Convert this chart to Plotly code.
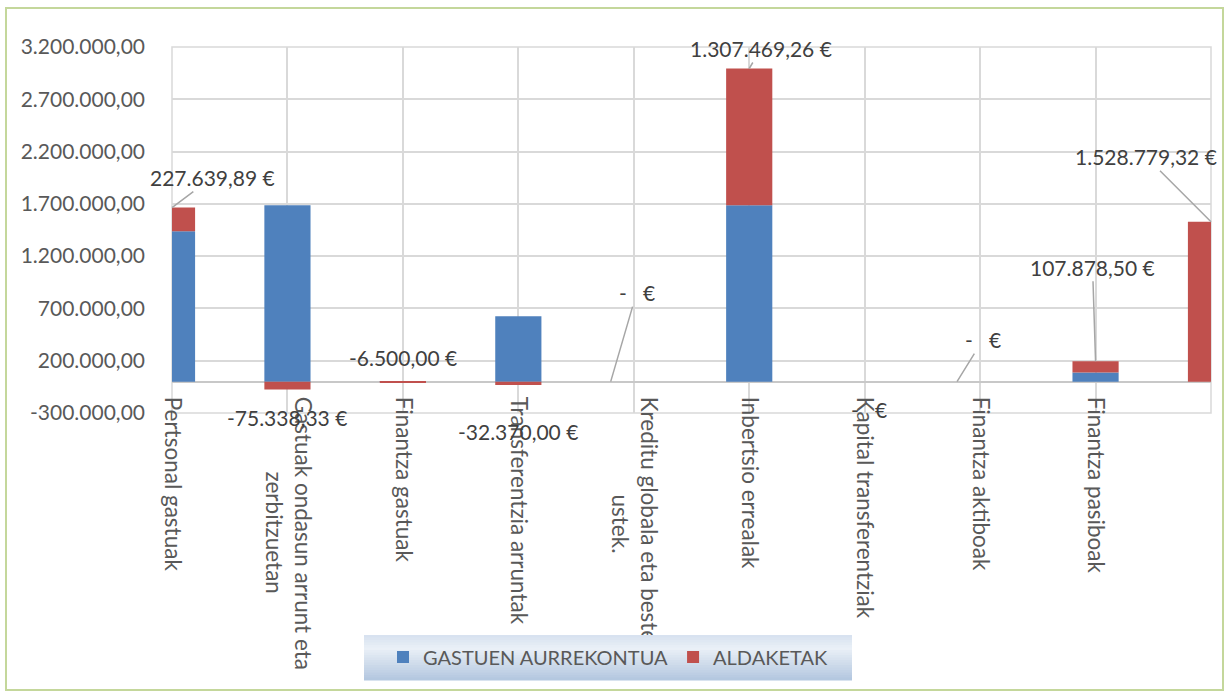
import plotly.graph_objects as go

# ---------------- data ----------------
categories = [
    "Pertsonal gastuak",
    "Gastuak ondasun arrunt eta<br>zerbitzuetan",
    "Finantza gastuak",
    "Transferentzia arruntak",
    "Kreditu globala eta beste<br>ustek.",
    "Inbertsio errealak",
    "Kapital transferentziak",
    "Finantza aktiboak",
    "Finantza pasiboak",
    "",
]
budget = [1437000, 1687000, 6000, 625000, 0, 1687000, 0, 0, 87000, 0]
changes = [227639.89, -75338.33, -6500.00, -32370.00, 0.0,
           1307469.26, 0.0, 0.0, 107878.50, 1528779.32]
y_ticks = [-300000, 200000, 700000, 1200000, 1700000, 2200000, 2700000, 3200000]
series_names = ["GASTUEN AURREKONTUA", "ALDAKETAK"]

# ---------------- helpers ----------------
W_FIG, H_FIG = 1227, 693
L, R, T, B = 172, 1211, 47, 413          # plot area in pixels
PW, PH = R - L, B - T
Y_MIN, Y_MAX = y_ticks[0], y_ticks[-1]
FONT = "Lato"


def px_x(px):
    return (px - L) / PW


def px_y(py):
    return (B - py) / PH


def num_es(v):
    s = f"{abs(v):,.2f}".replace(",", "#").replace(".", ",").replace("#", ".")
    return ("-" if v < 0 else "") + s


def euro(v):
    return "-   €" if v == 0 else num_es(v) + " €"


def center_label(lbl):
    lines = lbl.split("<br>")
    if len(lines) < 2:
        return lbl
    w = max(len(l) for l in lines)
    out = [("\u00a0" * round((w - len(l)) * 0.92)) + l for l in lines]
    return "<br>".join(out)


x = list(range(len(categories)))

fig = go.Figure()
fig.add_trace(go.Bar(x=x, y=budget, name=series_names[0], width=0.4,
                     marker=dict(color="#4f81bd", line=dict(width=0))))
fig.add_trace(go.Bar(x=x, y=changes, name=series_names[1], width=0.4,
                     marker=dict(color="#c0504d", line=dict(width=0))))

# ---------------- data labels (ALDAKETAK) ----------------
# per-label style: (x offset in categories, anchor kind, arrow?, dx, dy)  dy>0 = down
label_style = [
    (0.0, "top", True, 40, -30),
    (0.0, "val", False, 0, 28),
    (0.0, "val", False, 0, -25),
    (0.0, "val", False, 0, 46),
    (-0.2, "zero", True, 26, -89),
    (0.0, "top", True, 12, -20),
    (0.0, "zero", False, 4, 28),
    (-0.2, "zero", True, 26, -42),
    (0.0, "top", True, -3, -94),
    (0.0, "top", True, -65, -65),
]
annotations = []
for i, (b, c) in enumerate(zip(budget, changes)):
    xo, kind, arrow, dx, dy = label_style[i]
    if kind == "top":
        yv = (b if b > 0 else 0) + c
    elif kind == "val":
        yv = c
    else:
        yv = 0
    a = dict(x=x[i] + xo, y=yv, xref="x", yref="y", text=euro(c),
             font=dict(family=FONT, size=21, color="#404040"))
    if arrow:
        a.update(showarrow=True, ax=dx, ay=dy, arrowhead=0, arrowwidth=1.5,
                 arrowcolor="#a6a6a6", standoff=0, startstandoff=0)
    else:
        a.update(showarrow=False, xshift=dx, yshift=-dy)
    annotations.append(a)

# ---------------- shapes ----------------
shapes = []
# outer chart border
shapes.append(dict(type="rect", xref="paper", yref="paper",
                   x0=px_x(6), x1=px_x(1223), y0=px_y(690), y1=px_y(8),
                   line=dict(color="#c4d79b", width=2), fillcolor="rgba(0,0,0,0)",
                   layer="below"))
# plot-area border
shapes.append(dict(type="rect", xref="paper", yref="paper", x0=0, x1=1, y0=0, y1=1,
                   line=dict(color="#d9d9d9", width=1.5), layer="below"))


# legend gradient background
def lerp(c1, c2, t):
    return tuple(round(a + (b - a) * t) for a, b in zip(c1, c2))


stops = [(0.0, (214, 225, 239)), (0.3, (234, 240, 247)), (1.0, (178, 198, 223))]
lx0, lx1, ly0, ly1 = 364, 852, 635, 680
nb = 18
for k in range(nb):
    t = (k + 0.5) / nb
    col = stops[-1][1]
    for j in range(len(stops) - 1):
        if stops[j][0] <= t <= stops[j + 1][0]:
            tt = (t - stops[j][0]) / (stops[j + 1][0] - stops[j][0])
            col = lerp(stops[j][1], stops[j + 1][1], tt)
            break
    ya = ly0 + (ly1 - ly0) * k / nb
    yb = ly0 + (ly1 - ly0) * (k + 1) / nb
    shapes.append(dict(type="rect", xref="paper", yref="paper",
                       x0=px_x(lx0), x1=px_x(lx1), y0=px_y(yb + 0.5), y1=px_y(ya),
                       line=dict(width=0), fillcolor="rgb(%d,%d,%d)" % col,
                       layer="above"))

fig.update_layout(
    width=W_FIG, height=H_FIG,
    margin=dict(l=L, r=W_FIG - R, t=T, b=H_FIG - B, autoexpand=False),
    paper_bgcolor="white", plot_bgcolor="white",
    barmode="relative",
    font=dict(family=FONT, color="#595959"),
    xaxis=dict(
        range=[0, len(categories) - 1], tickmode="array", tickvals=x,
        ticktext=[center_label(c) for c in categories], tickangle=90,
        showgrid=True, gridcolor="#d9d9d9", gridwidth=1.5, zeroline=False,
        anchor="free", position=(0 - Y_MIN) / (Y_MAX - Y_MIN),
        ticks="", ticklabelstandoff=14, showline=False, automargin=False,
        tickfont=dict(family=FONT, size=22.5, color="#595959"),
    ),
    yaxis=dict(
        range=[Y_MIN, Y_MAX], tickmode="array", tickvals=y_ticks,
        ticktext=[num_es(v) for v in y_ticks],
        showgrid=True, gridcolor="#d9d9d9", gridwidth=1.5,
        zeroline=True, zerolinecolor="#c8c8c8", zerolinewidth=1.5,
        ticks="", ticklabelstandoff=26, automargin=False,
        tickfont=dict(family=FONT, size=21, color="#595959"),
    ),
    legend=dict(orientation="h", x=px_x(608), xanchor="center",
                y=px_y(657), yanchor="middle", bgcolor="rgba(0,0,0,0)",
                font=dict(family=FONT, size=20, color="#595959"),
                itemwidth=30, traceorder="normal"),
    annotations=annotations,
    shapes=shapes,
    showlegend=True,
)

fig.write_html("out.html", config={"displayModeBar": False},
               post_script="document.body.style.margin='0px';")
